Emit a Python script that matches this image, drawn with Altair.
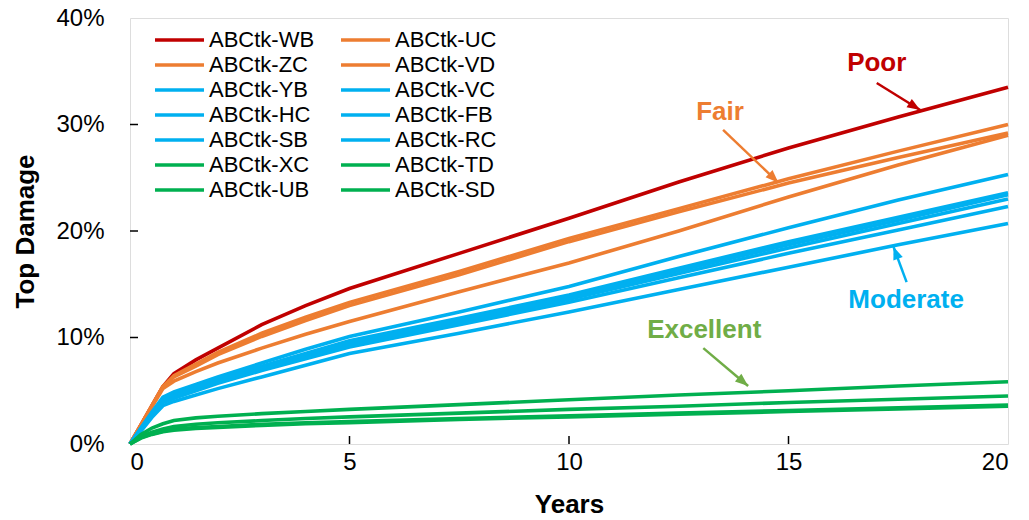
import altair as alt
import pandas as pd

# ---------------- data (values in %) ----------------
years = [0, 0.25, 0.5, 0.75, 1, 1.5, 2, 3, 4, 5, 7.5, 10, 12.5, 15, 17.5, 20]

series_names = ["ABCtk-WB", "ABCtk-UC", "ABCtk-ZC", "ABCtk-VD",
                "ABCtk-YB", "ABCtk-VC", "ABCtk-HC", "ABCtk-FB",
                "ABCtk-SB", "ABCtk-RC", "ABCtk-XC", "ABCtk-TD",
                "ABCtk-UB", "ABCtk-SD"]
series_colors = ["#C00000", "#ED7D31", "#ED7D31", "#ED7D31",
                 "#00B0F0", "#00B0F0", "#00B0F0", "#00B0F0",
                 "#00B0F0", "#00B0F0", "#00B050", "#00B050",
                 "#00B050", "#00B050"]
# legend fills column by column: left column first, then right column
legend_order = ["ABCtk-WB", "ABCtk-ZC", "ABCtk-YB", "ABCtk-HC", "ABCtk-SB",
                "ABCtk-XC", "ABCtk-UB", "ABCtk-UC", "ABCtk-VD", "ABCtk-VC",
                "ABCtk-FB", "ABCtk-RC", "ABCtk-TD", "ABCtk-SD"]

wb = [0, 1.8, 3.6, 5.4, 6.6, 7.9, 9.0, 11.2, 13.0, 14.6, 17.9, 21.2, 24.6, 27.8, 30.7, 33.5]
uc = [0, 1.8, 3.6, 5.4, 6.4, 7.5, 8.6, 10.4, 11.9, 13.3, 16.2, 19.3, 22.1, 24.9, 27.5, 30.0]
zc = [0, 1.8, 3.6, 5.4, 6.3, 7.3, 8.4, 10.1, 11.6, 13.0, 15.9, 19.0, 21.8, 24.5, 26.9, 29.2]
vd = [0, 1.7, 3.5, 5.2, 5.9, 6.8, 7.6, 9.0, 10.3, 11.5, 14.3, 17.0, 20.0, 23.2, 26.2, 29.0]
yb = [0, 1.5, 3.0, 4.4, 4.9, 5.6, 6.3, 7.6, 8.9, 10.1, 12.4, 14.8, 17.6, 20.3, 22.9, 25.3]
vc = [0, 1.5, 2.9, 4.2, 4.7, 5.4, 6.1, 7.3, 8.5, 9.7, 11.8, 14.0, 16.5, 19.0, 21.3, 23.6]
hc = [0, 1.4, 2.8, 4.1, 4.6, 5.3, 6.0, 7.2, 8.4, 9.5, 11.6, 13.8, 16.3, 18.7, 21.0, 23.4]
fb = [0, 1.4, 2.8, 4.0, 4.5, 5.2, 5.9, 7.1, 8.2, 9.3, 11.4, 13.6, 16.0, 18.4, 20.7, 23.0]
sb = [0, 1.3, 2.7, 3.9, 4.3, 5.0, 5.7, 6.9, 8.0, 9.1, 11.2, 13.3, 15.6, 17.9, 20.1, 22.3]
rc = [0, 1.2, 2.5, 3.6, 4.0, 4.6, 5.2, 6.3, 7.4, 8.5, 10.4, 12.4, 14.5, 16.6, 18.7, 20.7]
xc = [0, 0.9, 1.5, 1.9, 2.2, 2.45, 2.6, 2.85, 3.05, 3.25, 3.7, 4.15, 4.6, 5.0, 5.45, 5.85]
td = [0, 0.7, 1.1, 1.4, 1.65, 1.85, 2.0, 2.2, 2.4, 2.55, 2.9, 3.25, 3.55, 3.9, 4.2, 4.5]
ub = [0, 0.6, 0.95, 1.2, 1.4, 1.55, 1.65, 1.85, 2.0, 2.1, 2.4, 2.65, 2.9, 3.15, 3.4, 3.65]
sd = [0, 0.55, 0.9, 1.15, 1.3, 1.45, 1.55, 1.75, 1.9, 2.0, 2.3, 2.55, 2.8, 3.05, 3.3, 3.55]

series_values = [wb, uc, zc, vd, yb, vc, hc, fb, sb, rc, xc, td, ub, sd]

# annotations
ann_labels = ["Poor", "Fair", "Moderate", "Excellent"]
ann_x = [17.01, 13.44, 17.68, 13.08]
ann_y = [35.8, 31.2, 13.5, 10.7]
ann_colors = ["#C00000", "#ED7D31", "#00B0F0", "#70AD47"]

arrow_x = [17.01, 13.51, 17.69, 13.06]
arrow_y = [33.9, 29.5, 15.2, 9.0]
arrow_x2 = [18.0, 14.77, 17.39, 14.08]
arrow_y2 = [31.36, 24.54, 18.53, 5.45]
arrow_angle = [122, 134, 339, 130]

y_tick_values = [0, 10, 20, 30, 40]
x_tick_values = [0, 5, 10, 15, 20]

# ---------------- build tables ----------------
color_of = dict(zip(series_names, series_colors))
rows = []
for name, vals in zip(series_names, series_values):
    for yr, v in zip(years, vals):
        rows.append({"series": name, "year": yr, "value": v})
df = pd.DataFrame(rows)

ann_df = pd.DataFrame({"label": ann_labels, "x": ann_x, "y": ann_y, "color": ann_colors})
arr_df = pd.DataFrame({"x": arrow_x, "y": arrow_y, "x2": arrow_x2, "y2": arrow_y2,
                       "angle": arrow_angle, "color": ann_colors})

FONT = "Liberation Sans"
W, H = 878, 426

xscale = alt.Scale(domain=[0, 20], nice=False)
yscale = alt.Scale(domain=[0, 40], nice=False)

lines = alt.Chart(df).mark_line(strokeWidth=3.6).encode(
    x=alt.X("year:Q", scale=xscale,
            axis=alt.Axis(values=x_tick_values, title="Years", ticks=False, domain=False,
                          grid=False, labelFontSize=24, labelPadding=6, labelColor="black",
                          titleFontSize=26, titleFontWeight="bold", titleColor="black",
                          titlePadding=17, labelFont=FONT, titleFont=FONT)),
    y=alt.Y("value:Q", scale=yscale,
            axis=alt.Axis(values=y_tick_values, title="Top Damage", ticks=False, domain=False,
                          grid=False, labelFontSize=24, labelPadding=26, labelColor="black",
                          labelExpr="datum.value + '%'",
                          titleFontSize=26, titleFontWeight="bold", titleColor="black",
                          titlePadding=17, labelFont=FONT, titleFont=FONT)),
    color=alt.Color("series:N",
                    scale=alt.Scale(domain=legend_order,
                                    range=[color_of[n] for n in legend_order]),
                    sort=legend_order,
                    legend=alt.Legend(title=None, orient="none", legendX=23, legendY=11,
                                      columns=2, symbolType="stroke", symbolSize=2400,
                                      symbolStrokeWidth=3.5, labelFontSize=22, labelFont=FONT,
                                      labelColor="black", labelOffset=3, rowPadding=3,
                                      clipHeight=22, columnPadding=24, padding=0)),
    detail="series:N",
)

yticks = alt.Chart(pd.DataFrame({"value": [10, 20, 30]})).mark_rule(
    color="black", strokeWidth=1.5).encode(
    y=alt.Y("value:Q", scale=yscale), x=alt.value(0), x2=alt.value(8))

xticks = alt.Chart(pd.DataFrame({"year": [5, 10, 15]})).mark_rule(
    color="black", strokeWidth=1.5).encode(
    x=alt.X("year:Q", scale=xscale), y=alt.value(H), y2=alt.value(H - 8))

arrows = alt.Chart(arr_df).mark_rule(strokeWidth=2.5).encode(
    x="x:Q", y="y:Q", x2="x2:Q", y2="y2:Q",
    color=alt.Color("color:N", scale=None))

heads = alt.Chart(arr_df).mark_point(
    shape="M0,0 L-1,2.6 L1,2.6 Z", filled=True, size=100, opacity=1, strokeWidth=0).encode(
    x="x2:Q", y="y2:Q",
    angle=alt.Angle("angle:Q", scale=None),
    color=alt.Color("color:N", scale=None))

texts = alt.Chart(ann_df).mark_text(fontSize=26, fontWeight="bold", font=FONT,
                                    baseline="middle", align="center").encode(
    x="x:Q", y="y:Q", text="label:N",
    color=alt.Color("color:N", scale=None))

chart = alt.layer(lines, yticks, xticks, arrows, heads, texts).resolve_scale(
    color="independent"
).properties(
    width=W, height=H,
    autosize=alt.AutoSizeParams(type="none"),
    padding={"left": 130, "top": 18, "right": 21, "bottom": 76},
).configure_view(
    stroke="black", strokeWidth=1.5
).configure(background="white")

chart.save("out.html", embed_options={"renderer": "svg", "actions": False})
